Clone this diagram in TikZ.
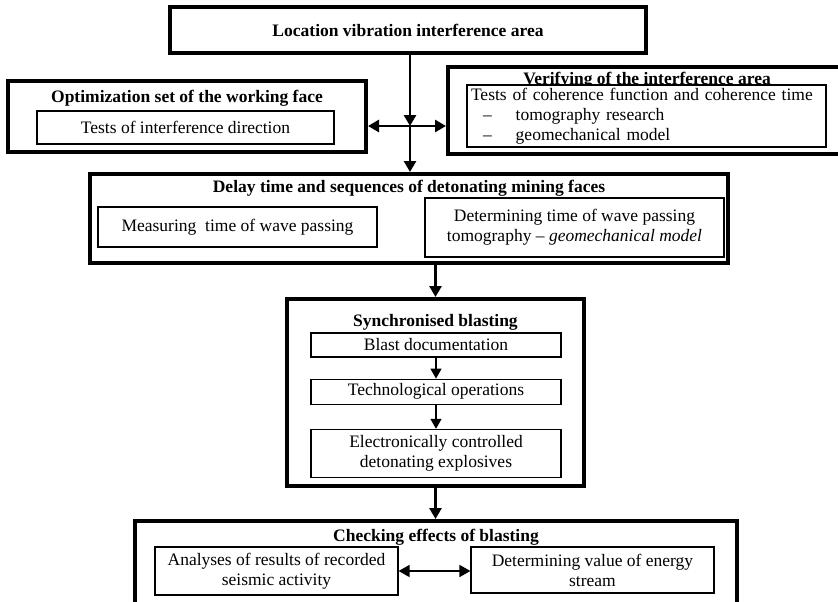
\documentclass[tikz,border=0pt]{standalone}
\usepackage{fontspec}
\setmainfont{Liberation Serif}
\usetikzlibrary{arrows.meta,positioning}
\newcommand{\boxsize}{\fontsize{17.5}{20}\selectfont}
\tikzset{
  frame/.style={draw=black, fill=white, line width=4pt, inner sep=0pt},
  inbox/.style={draw=black, fill=white, line width=1.2pt, align=center, inner sep=3pt},
  head/.style={font=\boxsize\bfseries, inner sep=0pt},
  arrow/.style={-{Triangle[length=11pt,width=12pt]}, line width=2.8pt},
  twoway/.style={{Triangle[length=11pt,width=12pt]}-{Triangle[length=11pt,width=12pt]}, line width=2.8pt},
  thinarrow/.style={-{Triangle[length=10pt,width=11pt]}, line width=1.6pt},
  thintwoway/.style={{Triangle[length=11pt,width=12pt]}-{Triangle[length=11pt,width=12pt]}, line width=1.7pt}
}

\begin{document}
\begin{tikzpicture}[x=1pt,y=-1pt,font=\boxsize]
    \useasboundingbox (0,0) rectangle (838,602);
    \fill[white] (0,0) rectangle (838,602);
    \clip (0,0) rectangle (838,602);

    % top
    \node[frame,minimum width=476pt,minimum height=46pt,font=\boxsize\bfseries] (loc) at (408,30) {Location vibration interference area};

    % left and right
    \node[frame,minimum width=358pt,minimum height=71pt] (opt) at (187,116.5) {};
    \node[head] (optt) at (187,98) {Optimization set of the working face};
    \node[inbox,minimum width=297pt,minimum height=33pt] (optin) at (185.5,127.5) {Tests of interference direction};

    \node[frame,minimum width=424pt,minimum height=87pt] (ver) at (660,110.5) {};
    \node[head] (vert) at (647,80) {Verifying of the interference area};
    \node[inbox,minimum width=359pt,minimum height=62pt,text width=351pt,align=left] (verin) at (646.5,116)
      {Tests of coherence function and coherence time\\
       \hspace*{12pt}--\hspace*{24pt}tomography research\\
       \hspace*{12pt}--\hspace*{24pt}geomechanical model};

    % delay
    \node[frame,minimum width=638pt,minimum height=89pt] (delay) at (409,218.5) {};
    \node[head] (delayt) at (409,188) {Delay time and sequences of detonating mining faces};
    \node[inbox,minimum width=279pt,minimum height=40pt] (meas) at (237.5,227) {Measuring\ \ time of wave passing};
    \node[inbox,minimum width=299pt,minimum height=59pt] (detm) at (574.5,227.5) {Determining time of wave passing\\tomography -- \textit{geomechanical model}};

    % synchronised blasting
    \node[frame,minimum width=297pt,minimum height=187pt] (sync) at (435.5,392.5) {};
    \node[head] (synct) at (435.5,322) {Synchronised blasting};
    \node[inbox,minimum width=250pt,minimum height=24pt,inner sep=0pt] (blast) at (436,345) {Blast documentation};
    \node[inbox,minimum width=250pt,minimum height=25pt,inner sep=0pt,below=21pt of blast] (tech) {Technological operations};
    \node[inbox,minimum width=250pt,minimum height=48pt,inner sep=0pt,below=24pt of tech] (elec) {Electronically controlled\\detonating explosives};
    \draw[thinarrow] (blast) -- (tech);
    \draw[thinarrow] (tech) -- (elec);

    % checking
    \node[frame,minimum width=602pt,minimum height=119pt] (check) at (436,580.5) {};
    \node[head] (checkt) at (436,537) {Checking effects of blasting};
    \node[inbox,minimum width=243pt,minimum height=48pt] (anal) at (276.5,571) {Analyses of results of recorded\\seismic activity};
    \node[inbox,minimum width=243pt,minimum height=46pt] (energy) at (592.5,570) {Determining value of energy\\stream};
    \draw[thintwoway] (anal.east) -- (anal.east -| energy.west);

    % connectors
    \coordinate (cross) at (410,126);
    \draw[arrow] (loc.south -| cross) -- (cross);
    \draw[twoway] (opt.east |- cross) -- (ver.west |- cross);
    \draw[arrow] (cross) -- (cross |- delay.north);
    \draw[arrow] (delay.south -| sync.north) -- (sync.north);
    \draw[arrow] (sync.south) -- (sync.south |- check.north);
  \end{tikzpicture}
\end{document}
